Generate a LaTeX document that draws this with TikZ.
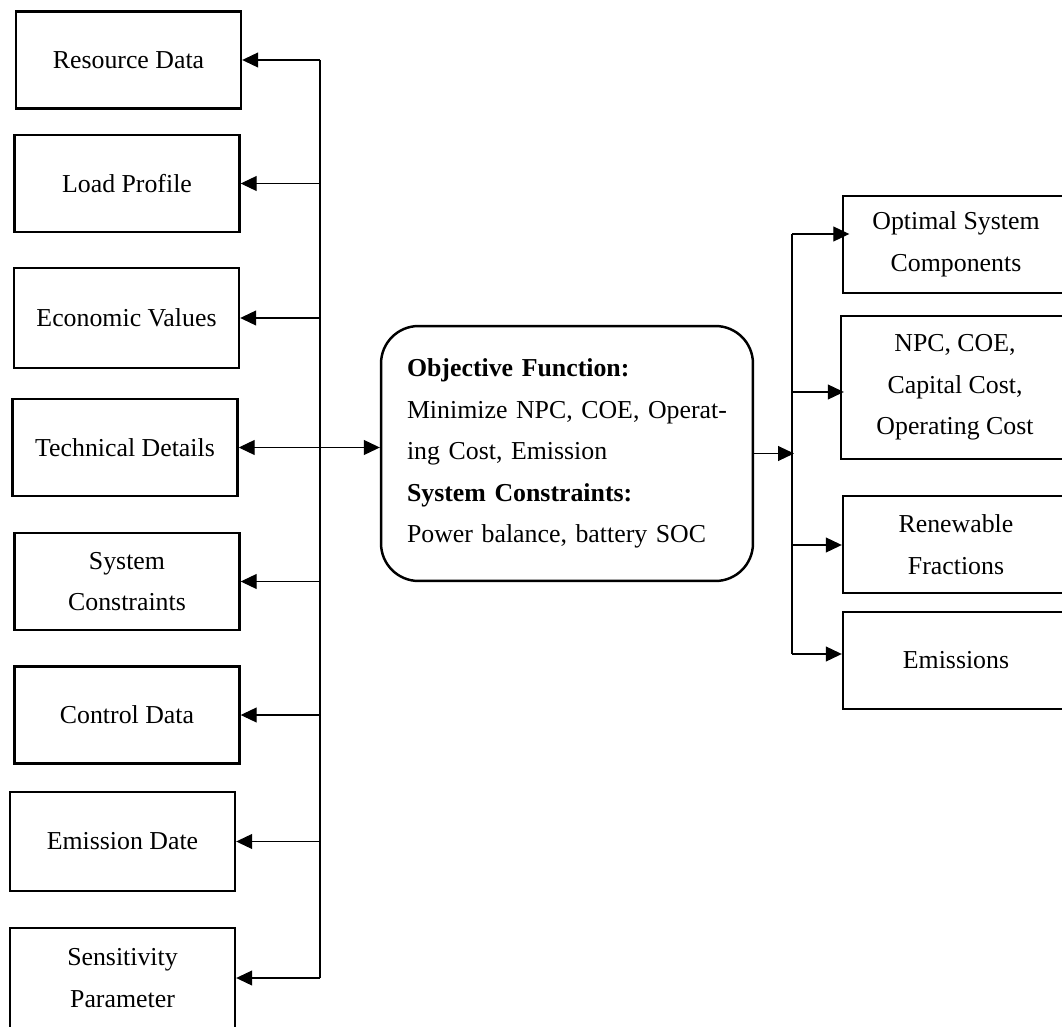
\documentclass[tikz,border=0pt]{standalone}
\usepackage{fontspec}
\setmainfont{Liberation Serif}
\usetikzlibrary{arrows.meta}
\tikzset{inbox/.style={draw, line width=1.4pt, minimum width=4.5cm, minimum height=1.94cm,
  align=center, font=\fontsize{14.7}{23.7}\selectfont},
  objbox/.style={draw, line width=1.4pt, rounded corners=0.75cm, minimum width=7.44cm,
  minimum height=5.1cm, text width=6.4cm, align=left, font=\fontsize{14.7}{23.7}\selectfont},
  arr/.style={line width=0.6pt, -{Triangle[length=3.2mm,width=3mm]}},
  dblarr/.style={line width=0.6pt, {Triangle[length=3.2mm,width=3mm]}-{Triangle[length=3.2mm,width=3mm]}}}

\begin{document}
\begin{tikzpicture}[x=0.02cm, y=-0.02cm]
  \useasboundingbox (0,0) rectangle (1062,1027);
  % input data, left column
  \node[inbox] (res) at (128.5,60) {Resource Data};
  \node[inbox] (load) at (127,183.5) {Load Profile};
  \node[inbox, minimum height=2cm] (econ) at (126.5,318) {Economic Values};
  \node[inbox] (tech) at (125,447.5) {Technical Details};
  \node[inbox] (cons) at (127,581.5) {System\\Constraints};
  \node[inbox] (ctrl) at (127,715) {Control Data};
  \node[inbox, minimum height=1.98cm] (emis) at (122.5,841.5) {Emission Date};
  \node[inbox, minimum height=2cm] (sens) at (122.5,978) {Sensitivity\\Parameter};
  % optimisation block
  \node[objbox] (obj) at (567,453.5) {\textbf{Objective Function:}\\
    Minimize NPC, COE, Operat-\\ing Cost, Emission\\
    \textbf{System Constraints:}\\Power balance, battery SOC};
  % results, right column (cut by the page edge)
  \node[inbox, minimum width=4.52cm] (opt) at (956,244.5) {Optimal System\\Components};
  \node[inbox, minimum width=4.56cm, minimum height=2.86cm] (cost) at (955,387.5) {NPC, COE,\\Capital Cost,\\Operating Cost};
  \node[inbox, minimum width=4.52cm] (ren) at (956,544.5) {Renewable\\Fractions};
  \node[inbox, minimum width=4.52cm] (emo) at (956,660.5) {Emissions};

  % left bus
  \coordinate (lbus) at (320,0);
  \draw[line width=0.6pt] (res.east -| lbus) -- (sens.east -| lbus);
  \draw[arr] (res.east -| lbus) -- (res.east);
  \draw[arr] (load.east -| lbus) -- (load.east);
  \draw[arr] (econ.east -| lbus) -- (econ.east);
  \draw[arr] (cons.east -| lbus) -- (cons.east);
  \draw[arr] (ctrl.east -| lbus) -- (ctrl.east);
  \draw[arr] (emis.east -| lbus) -- (emis.east);
  \draw[arr] (sens.east -| lbus) -- (sens.east);
  \draw[dblarr] (tech.east) -- (tech.east -| obj.west); % both ways

  % right bus
  \coordinate (rbus) at (794,0);
  \coordinate (r1) at (792,234);
  \coordinate (r2) at (792,392);
  \coordinate (r3) at (792,545);
  \coordinate (r4) at (792,654);
  \draw[line width=0.6pt] (r1) -- (r4);
  \draw[arr] (obj.east) -- (obj.east -| rbus);
  \draw[arr] (r1) -- ([xshift=0.15cm]opt.west |- r1);
  \draw[arr] (r2) -- ([xshift=0.08cm]cost.west |- r2);
  \draw[arr] (r3) -- (ren.west |- r3);
  \draw[arr] (r4) -- (emo.west |- r4);
\end{tikzpicture}
\end{document}
